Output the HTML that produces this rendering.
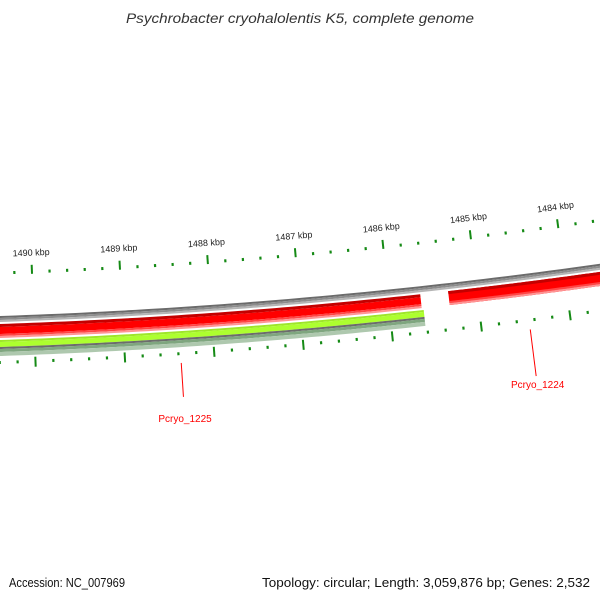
<!DOCTYPE html>
<html><head><meta charset="utf-8"><style>
html,body{margin:0;padding:0;background:#fff;}
svg{display:block;font-family:"Liberation Sans","DejaVu Sans",sans-serif;}
</style></head><body>
<svg id="map" width="600" height="600" viewBox="0 0 600 600" xmlns="http://www.w3.org/2000/svg">
<rect width="600" height="600" fill="#fff"/>
<text x="300" y="23" text-anchor="middle" font-size="14" font-style="italic" fill="#333" textLength="348" lengthAdjust="spacingAndGlyphs">Psychrobacter cryohalolentis K5, complete genome</text>
<g id="rings"></g>
<text x="9" y="587" font-size="13" fill="#111" textLength="116" lengthAdjust="spacingAndGlyphs">Accession: NC_007969</text>
<text x="590" y="587" text-anchor="end" font-size="13" fill="#111" textLength="328" lengthAdjust="spacingAndGlyphs">Topology: circular; Length: 3,059,876 bp; Genes: 2,532</text>
</svg>
<script>
// ---- data ----
const tickLabelValues = [1490000, 1489000, 1488000, 1487000, 1486000, 1485000, 1484000];
const tickLabels = ['1490 kbp','1489 kbp','1488 kbp','1487 kbp','1486 kbp','1485 kbp','1484 kbp'];
const geneNames = ['Pcryo_1225', 'Pcryo_1224'];
const geneStarts = [1485640, 1483598];
const geneEnds = [1491110, 1485324];
const geneArrowLeft = [false, true];
const cogStarts = [1485620];
const cogEnds = [1491110];
const tickStep = 200;
const viewStart = 1483300, viewEnd = 1490700;

// ---- scale ----
const XC = -190, YC = -5340, T0 = 0.03953, B0 = 1490000, K = 1.5677e-5;
const NS = 'http://www.w3.org/2000/svg';
const g = document.getElementById('rings');
function th(bp){ return T0 + (B0 - bp) * K; }
function R(y0){ return Math.hypot(190, y0 - YC); }
function pt(r, t){ return [XC + r*Math.sin(t), YC + r*Math.cos(t)]; }
function arcPts(r, t1, t2){
  const a=[]; const n=60;
  for(let i=0;i<=n;i++){ const t=t1+(t2-t1)*i/n; a.push(pt(r,t)); }
  return a;
}
function band(y1, y2, b1, b2, fill, name){
  const t1=th(b1), t2=th(b2);
  const pts=arcPts(R(y1),t1,t2).concat(arcPts(R(y2),t2,t1));
  const p=document.createElementNS(NS,'polygon');
  p.setAttribute('points', pts.map(q=>q[0].toFixed(2)+','+q[1].toFixed(2)).join(' '));
  p.setAttribute('fill', fill);
  
  
  g.appendChild(p);
  return p;
}
function line(r1, r2, t, color, w, name){
  const a=pt(r1,t), b=pt(r2,t);
  const l=document.createElementNS(NS,'line');
  l.setAttribute('x1',a[0]); l.setAttribute('y1',a[1]);
  l.setAttribute('x2',b[0]); l.setAttribute('y2',b[1]);
  l.setAttribute('stroke',color); l.setAttribute('stroke-width',w);
  
  
  g.appendChild(l);
}

// backbone
band(316,318,viewStart,viewEnd,'#6b6b6b','backbone-top');
band(318,320,viewStart,viewEnd,'#8c8c8c','backbone-mid');
band(320,322,viewStart,viewEnd,'#b4b4b4','backbone-bottom');

// genes (red)
const pxBp = 1/(K*5672); // bp per px
for(let i=0;i<geneNames.length;i++){
  let s=geneStarts[i], e=geneEnds[i];
  let body = geneArrowLeft[i] ? s - 7*pxBp : s;
  if(geneArrowLeft[i]){
    const tTip=th(s), tB=th(body), tE=th(e);
    const outer=arcPts(R(324),tB,tE), inner=arcPts(R(338),tE,tB);
    const pts=[pt(R(331),tTip)].concat(outer).concat(inner);
    const p=document.createElementNS(NS,'polygon');
    p.setAttribute('points', pts.map(q=>q[0].toFixed(2)+','+q[1].toFixed(2)).join(' '));
    p.setAttribute('fill','#ff0000');
    
    
    g.appendChild(p);
  } else {
    band(327,334,s,e,'#ff0000','gene-'+geneNames[i].toLowerCase());
  }
  band(324,327,body,e,'#c40000','gene-shade-top');
  band(334,336,body,e,'#ff4545','gene-shade-low');
  band(336,338,body,e,'#ff9494','gene-shade-bottom');
}

// COG-like green track
for(let i=0;i<cogStarts.length;i++){
  band(340,342,cogStarts[i],cogEnds[i],'#9ee62a','cog-top');
  band(342,347,cogStarts[i],cogEnds[i],'#adff2f','cog-feature');
  band(347,349,cogStarts[i],cogEnds[i],'#6c6c6c','cog-divider');
  band(349,352,cogStarts[i],cogEnds[i],'#7fa67f','cog-shade');
  band(352,356,cogStarts[i],cogEnds[i],'#aec8ae','cog-shade-low');
}

// ticks
const tickColor='#158a15';
for(let bp=Math.ceil(viewStart/tickStep)*tickStep; bp<=viewEnd; bp+=tickStep){
  const major = bp % 1000 === 0;
  const t=th(bp);
  if(major){
    line(R(266),R(275),t,tickColor,2,'tick-major-outer');
    line(R(358),R(368),t,tickColor,2,'tick-major-inner');
  } else {
    line(R(271.5),R(274.5),t,tickColor,2.2,'tick-minor-outer');
    line(R(361),R(364),t,tickColor,2.2,'tick-minor-inner');
  }
}
for(let i=0;i<tickLabels.length;i++){
  const t=th(tickLabelValues[i]);
  const p=pt(5600,t);
  const tx=document.createElementNS(NS,'text');
  tx.setAttribute('x',p[0]); tx.setAttribute('y',p[1]);
  tx.setAttribute('text-anchor','middle');
  tx.setAttribute('font-size','9');
  tx.setAttribute('fill','#222');
  tx.setAttribute('transform','rotate('+(-t*180/Math.PI).toFixed(3)+' '+p[0]+' '+p[1]+')');
  
  
  tx.textContent=tickLabels[i];
  g.appendChild(tx);
}

// gene labels
const lineEnds=[5749,5762];
for(let i=0;i<geneNames.length;i++){
  const mid=(geneStarts[i]+geneEnds[i])/2;
  const t=th(mid);
  line(5715,lineEnds[i],t,'#ff0000',1,'label-leader');
  const p=pt(5774,t);
  const tx=document.createElementNS(NS,'text');
  tx.setAttribute('x',p[0]); tx.setAttribute('y',p[1]);
  tx.setAttribute('text-anchor','middle');
  tx.setAttribute('font-size','10');
  tx.setAttribute('fill','#ff0000');
  
  
  tx.textContent=geneNames[i];
  g.appendChild(tx);
}
</script>
</body></html>
